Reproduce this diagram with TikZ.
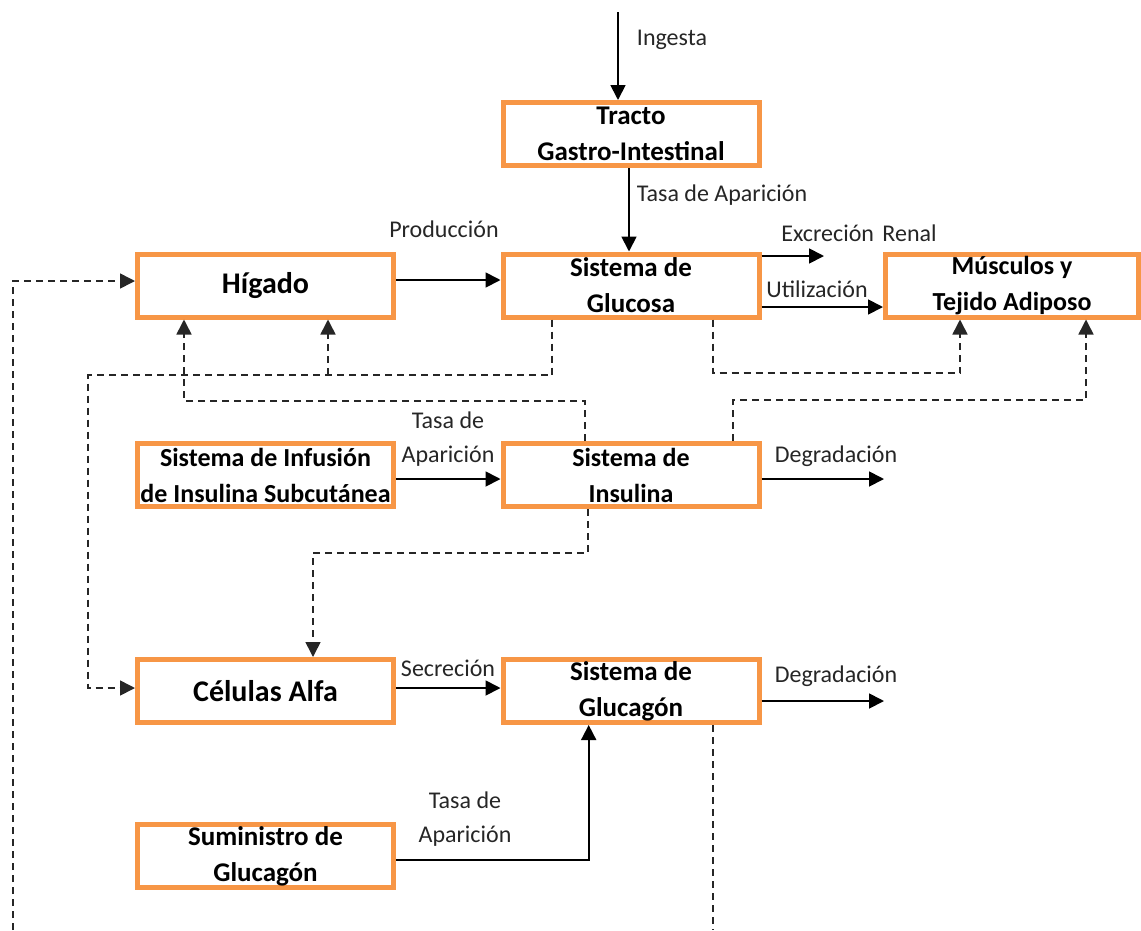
\documentclass[tikz,border=0pt]{standalone}
\usepackage{fontspec}
\setmainfont{Carlito}
\usetikzlibrary{arrows.meta}
\definecolor{boxorange}{HTML}{F79646}
\definecolor{lbl}{HTML}{262626}
\begin{document}
\begin{tikzpicture}[x=1pt,y=-1pt,
  box/.style={draw=boxorange, line width=5pt, fill=white, minimum width=256pt, minimum height=63pt, inner sep=0pt, align=center},
  fa/.style={font=\bfseries\fontsize{27}{36}\selectfont},
  fb/.style={font=\bfseries\fontsize{26}{36}\selectfont},
  fc/.style={font=\bfseries\fontsize{30}{36}\selectfont},
  lab/.style={text=lbl, inner sep=0pt, align=center, font=\fontsize{24}{34}\selectfont},
  arr/.style={line width=1.8pt, -{Triangle[length=15pt,width=15pt]}},
  dsh/.style={line width=1.6pt, dash pattern=on 7pt off 5pt, draw=black!85},
  darr/.style={dsh, -{Triangle[length=15pt,width=15pt]}}]
\useasboundingbox (0,0) rectangle (1141,930);

% boxes
\node[box, fa] (tracto) at (631,134) {Tracto\\Gastro-Intestinal};
\node[box, fc] (higado) at (265.5,285.5) {Hígado};
\node[box, fa] (glucosa) at (631,285.5) {Sistema de\\Glucosa};
\node[box, fb, minimum width=253pt] (musculos) at (1012,285.5) {Músculos y\\Tejido Adiposo};
\node[box, fb] (infusion) at (265.5,475) {Sistema de Infusión\\de Insulina Subcutánea};
\node[box, fb] (insulina) at (631,475) {Sistema de\\Insulina};
\node[box, fc] (celulas) at (265.5,691) {Células Alfa};
\node[box, fa] (glucagon) at (631,691) {Sistema de\\Glucagón};
\node[box, fa] (suministro) at (265.5,856) {Suministro de\\Glucagón};

% free ends and bends
\coordinate (ing) at (618,12);
\coordinate (exc) at (824,256);
\coordinate (degi) at (884,479);
\coordinate (degg) at (884,701);
\coordinate (j1) at (328,375);
\coordinate (m1) at (960,373);
\coordinate (h1) at (184,401);
\coordinate (m2) at (1086,400);
\coordinate (c1) at (313,553);
\coordinate (gb) at (713,930);
\coordinate (lb) at (13,930);

% solid connectors
\draw[arr] (ing) -- (ing |- tracto.north);
\draw[arr] ([xshift=-2pt]tracto.south) -- ([xshift=-2pt]glucosa.north);
\draw[arr] ([yshift=5.5pt]higado.east) -- ([yshift=5.5pt]glucosa.west);
\draw[arr] (glucosa.east |- exc) -- (exc);
\draw[arr] ([yshift=-21.5pt]glucosa.east) -- ([yshift=-21.5pt]musculos.west);
\draw[arr] ([yshift=-4pt]infusion.east) -- ([yshift=-4pt]insulina.west);
\draw[arr] (insulina.east |- degi) -- (degi);
\draw[arr] ([yshift=3pt]celulas.east) -- ([yshift=3pt]glucagon.west);
\draw[arr] (glucagon.east |- degg) -- (degg);
\draw[arr] ([yshift=-4pt]suministro.east) -| ([xshift=-42.3pt]glucagon.south);

% dashed connectors
\draw[darr] ([xshift=-79pt]glucosa.south) |- (88,375) |- ([yshift=3pt]celulas.west);
\draw[darr] (j1) -- (j1 |- higado.south);
\draw[darr] ([xshift=82pt]glucosa.south) |- (m1) -- (m1 |- musculos.south);
\draw[darr] ([xshift=-46pt]insulina.north) |- (h1) -- (h1 |- higado.south);
\draw[darr] ([xshift=102pt]insulina.north) |- (m2) -- (m2 |- musculos.south);
\draw[darr] ([xshift=-43pt]insulina.south) |- (c1) -- (c1 |- celulas.north);
\draw[dsh] (gb |- glucagon.south) -- (gb);
\draw[darr] (lb) |- ([yshift=4.5pt]higado.west);

% labels
\node[lab] (lIng) at (672,40) {Ingesta};
\node[lab] (lTasa1) at (722,195) {Tasa de Aparición};
\node[lab] (lProd) at (444,229) {Producción};
\node[lab] (lExc) at (859,233) {Excreción\hspace{3pt} Renal};
\node[lab] (lUtil) at (817,289) {Utilización};
\node[lab] (lTasa2) at (448,439) {Tasa de\\Aparición};
\node[lab] (lDeg1) at (836,456) {Degradación};
\node[lab] (lSec) at (448,668) {Secreción};
\node[lab] (lDeg2) at (836,676) {Degradación};
\node[lab] (lTasa3) at (465,819.5) {Tasa de\\Aparición};
\end{tikzpicture}
\end{document}
